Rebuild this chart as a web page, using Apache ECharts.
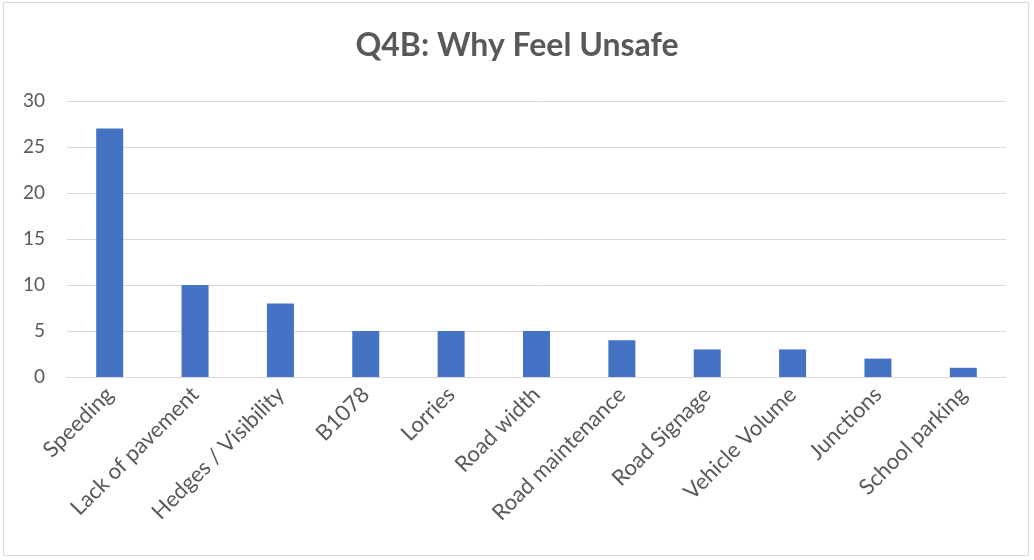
<!DOCTYPE html>
<html>
<head>
<meta charset="utf-8">
<script src="https://cdn.jsdelivr.net/npm/echarts@6/dist/echarts.min.js"></script>
<style>
  html, body { margin: 0; padding: 0; background: #fff; }
  #wrap { position: absolute; left: 3px; top: 2px; width: 1026px; height: 554px; border: 1px solid #d9d9d9; box-sizing: border-box; }
  #chart { position: absolute; left: 0; top: 0; width: 1034px; height: 560px; }
</style>
</head>
<body>
<div id="wrap"></div>
<div id="chart"></div>
<script>
// data
const categories = ['Speeding', 'Lack of pavement', 'Hedges / Visibility', 'B1078', 'Lorries',
  'Road width', 'Road maintenance', 'Road Signage', 'Vehicle Volume', 'Junctions', 'School parking']
const counts = [27, 10, 8, 5, 5, 5, 4, 3, 3, 2, 1]
const yTicks = [0, 5, 10, 15, 20, 25, 30]

const myChart = echarts.init(document.getElementById('chart'))
const options = {
  animation: false,
  title: {
    text: 'Q4B: Why Feel Unsafe',
    left: 'center',
    top: 25,
    textStyle: {
      fontFamily: 'Lato',
      fontSize: 32,
      fontWeight: 'bold',
      color: '#595959'
    }
  },
  grid: {
    top: 101,
    left: 67,
    right: 28,
    bottom: 183,
    containLabel: false
  },
  xAxis: {
    type: 'category',
    data: categories,
    axisTick: { show: false },
    axisLine: { lineStyle: { color: '#d9d9d9', width: 1 } },
    axisLabel: {
      rotate: 45,
      interval: 0,
      margin: 14,
      fontFamily: 'Lato',
      fontSize: 22,
      color: '#595959'
    }
  },
  yAxis: {
    type: 'value',
    min: yTicks[0],
    max: yTicks[yTicks.length - 1],
    interval: 5,
    axisLine: { show: false },
    axisTick: { show: false },
    splitLine: { lineStyle: { color: '#d9d9d9', width: 1 } },
    axisLabel: {
      margin: 22,
      fontFamily: 'Lato',
      fontSize: 19,
      color: '#595959'
    }
  },
  series: [
    {
      type: 'bar',
      data: counts,
      barWidth: 27,
      itemStyle: { color: '#4472c4' }
    }
  ]
}
myChart.setOption(options)
</script>
</body>
</html>
